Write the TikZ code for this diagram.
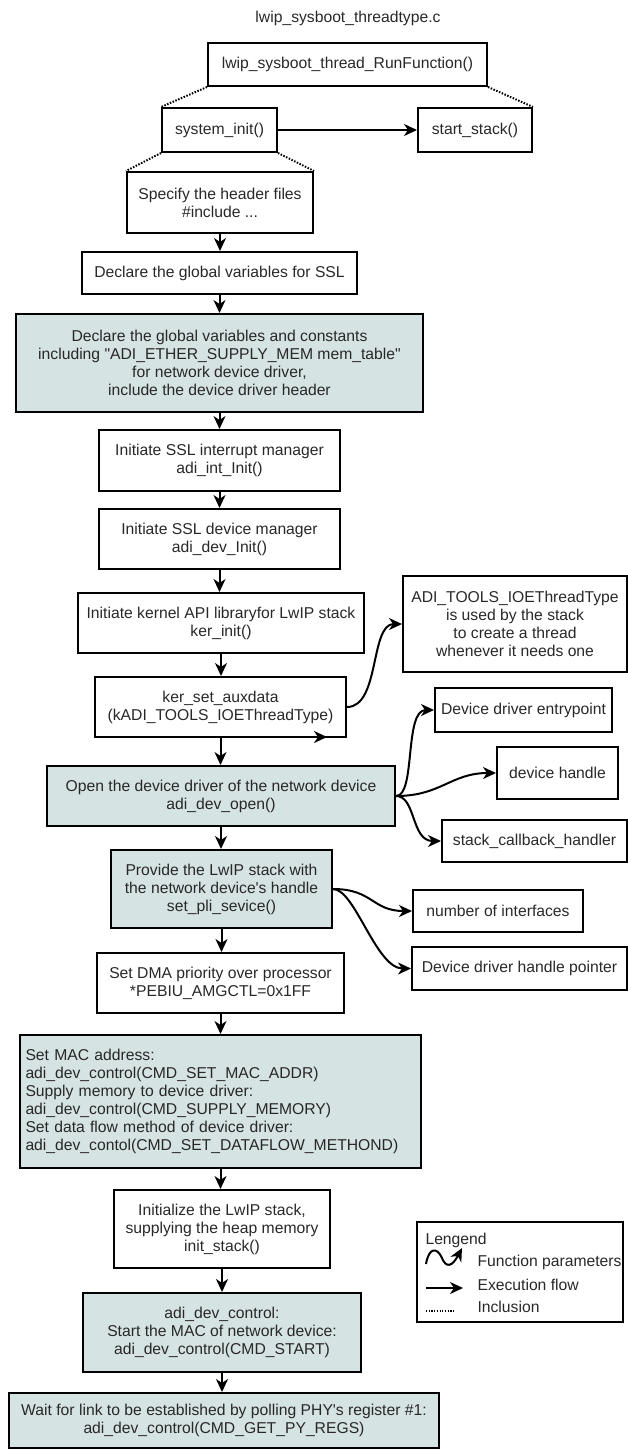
\documentclass[tikz,border=0pt]{standalone}
\usepackage{fontspec}
\setmainfont{Liberation Sans}[Ligatures=TeXOff]
\usetikzlibrary{arrows.meta}
\definecolor{fillc}{RGB}{214,227,227}
\definecolor{txt}{RGB}{40,40,40}
\begin{document}
\begin{tikzpicture}[x=1pt,y=-1pt,
  every node/.style={font=\fontsize{15.7pt}{18pt}\selectfont, text=txt},
  box/.style={draw=black, line width=2pt, inner sep=0pt, align=center},
  shaded/.style={box, fill=fillc},
  flow/.style={line width=2pt, -{Stealth[length=13pt,width=12pt,inset=4pt]}},
  incl/.style={line width=2pt, dash pattern=on 1.5pt off 1.5pt},
]
\useasboundingbox (0,0) rectangle (628,1449);

\node (title) at (348,18) {lwip\_sysboot\_threadtype.c};

\node[box, minimum width=279pt, minimum height=43pt] (run) at (347.5,64.5) {lwip\_sysboot\_thread\_RunFunction()};
\node[box, minimum width=115pt, minimum height=44pt] (sysinit) at (219.5,130) {system\_init()};
\node[box, minimum width=114pt, minimum height=44pt] (start) at (475,130) {start\_stack()};
\node[box, minimum width=186pt, minimum height=61pt] (spec) at (220,202.5) {Specify the header files\\\#include ...};
\node[box, minimum width=275pt, minimum height=42pt] (declssl) at (219.5,273) {Declare the global variables for SSL};
\node[shaded, minimum width=407pt, minimum height=98pt] (declglob) at (219.5,363) {Declare the global variables and constants\\including "ADI\_ETHER\_SUPPLY\_MEM mem\_table"\\for network device driver,\\include the device driver header};
\node[box, minimum width=241pt, minimum height=61pt] (sslint) at (219.5,460.5) {Initiate SSL interrupt manager\\adi\_int\_Init()};
\node[box, minimum width=241pt, minimum height=60pt] (ssldev) at (219.5,539) {Initiate SSL device manager\\adi\_dev\_Init()};
\node[box, minimum width=286pt, minimum height=60pt] (kernel) at (221,623) {Initiate kernel API libraryfor LwIP stack\\ker\_init()};
\node[box, minimum width=224pt, minimum height=96pt] (tools) at (515,624) {ADI\_TOOLS\_IOEThreadType\\is used by the stack\\to create a thread\\whenever it needs one};
\node[box, minimum width=251pt, minimum height=60pt] (ker) at (220.5,707) {ker\_set\_auxdata\\(kADI\_TOOLS\_IOEThreadType)};
\node[box, minimum width=177pt, minimum height=44pt] (entry) at (523.5,710) {Device driver entrypoint};
\node[box, minimum width=121pt, minimum height=52pt] (handle) at (557.5,773) {device handle};
\node[shaded, minimum width=348pt, minimum height=60pt] (open) at (221,796) {Open the device driver of the network device\\adi\_dev\_open()};
\node[box, minimum width=185pt, minimum height=42pt] (stackcb) at (534.5,841) {stack\_callback\_handler};
\node[shaded, minimum width=221pt, minimum height=78pt] (provide) at (221.5,889) {Provide the LwIP stack with\\the network device's handle\\set\_pli\_sevice()};
\node[box, minimum width=170pt, minimum height=42pt] (numif) at (498,911) {number of interfaces};
\node[box, minimum width=215pt, minimum height=43pt] (ddhp) at (519.5,968.5) {Device driver handle pointer};
\node[box, minimum width=247pt, minimum height=60pt] (dma) at (220.5,983) {Set DMA priority over processor\\*PEBIU\_AMGCTL=0x1FF};
\node[shaded, minimum width=401pt, minimum height=133pt, align=left, text width=390pt, inner sep=0pt] (mac) at (220.5,1101.5) {Set MAC address:\\adi\_dev\_control(CMD\_SET\_MAC\_ADDR)\\Supply memory to device driver:\\adi\_dev\_control(CMD\_SUPPLY\_MEMORY)\\Set data flow method of device driver:\\adi\_dev\_contol(CMD\_SET\_DATAFLOW\_METHOND)};
\node[box, minimum width=216pt, minimum height=78pt] (init) at (222,1229) {Initialize the LwIP stack,\\supplying the heap memory\\init\_stack()};
\node[shaded, minimum width=278pt, minimum height=79pt] (adic) at (222,1332.5) {adi\_dev\_control:\\Start the MAC of network device:\\adi\_dev\_control(CMD\_START)};
\node[shaded, minimum width=430pt, minimum height=55pt] (wait) at (224,1420.5) {Wait for link to be established by polling PHY's register \#1:\\adi\_dev\_control(CMD\_GET\_PY\_REGS)};

% inclusion (dotted)
\draw[incl] (run.south west) -- (sysinit.north west);
\draw[incl] (run.south east) -- (start.north east);
\draw[incl] (sysinit.south west) -- (spec.north west);
\draw[incl] (sysinit.south east) -- (spec.north east);

% execution flow
\draw[flow] (sysinit) -- (start);
\foreach \a/\b in {spec/declssl, declssl/declglob, declglob/sslint, sslint/ssldev, ssldev/kernel, kernel/ker, ker/open, open/provide, provide/dma, dma/mac, mac/init, init/adic, adic/wait}
  \draw[flow] (\a.south) -- (\a.south |- \b.north);

% function parameters
\draw[flow] (ker.east) .. controls (380,707) and (370,624) .. (tools.west);
\coordinate (kerA) at (306,737);
\coordinate (kerB) at (327,737);
\draw[flow] (kerA) -- (kerB);
\draw[flow] (open.east) .. controls +(20,0) and +(-30,0) .. (entry.west);
\draw[flow] (open.east) .. controls +(45,0) and +(-45,0) .. (handle.west);
\draw[flow] (open.east) .. controls +(20,0) and +(-30,0) .. (stackcb.west);
\draw[flow] (provide.east) .. controls +(40,0) and +(-40,0) .. (numif.west);
\draw[flow] (provide.east) .. controls +(22,0) and +(-35,0) .. (ddhp.west);

% legend
\node[box, minimum width=206pt, minimum height=100pt] (legend) at (520,1272) {};
\node[anchor=west] (lgt) at (422,1240) {Lengend};
\node[anchor=west] (lgf) at (474,1262) {Function parameters};
\node[anchor=west] (lge) at (474,1285) {Execution flow};
\node[anchor=west] (lgi) at (474,1307) {Inclusion};
\coordinate (s0) at (426,1264);
\coordinate (s1) at (462,1248);
\draw[line width=2pt, -{Stealth[length=13pt,width=12pt,inset=4pt]}] (s0) .. controls (429,1247) and (437,1247) .. (442,1258) .. controls (446,1268) and (452,1267) .. (s1);
\coordinate (e0) at (426,1288);
\coordinate (e1) at (463,1288);
\draw[flow] (e0) -- (e1);
\coordinate (d0) at (426,1311);
\coordinate (d1) at (455,1311);
\draw[line width=1.2pt, dash pattern=on 1.2pt off 1.5pt] (d0) -- (d1);
\end{tikzpicture}
\end{document}
